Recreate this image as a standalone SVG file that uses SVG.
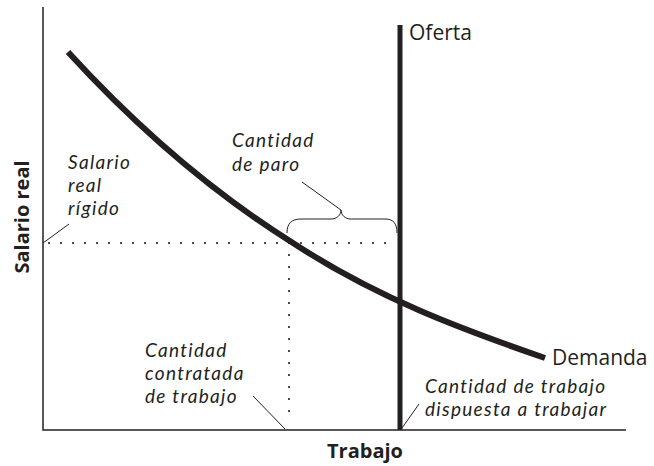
<svg xmlns="http://www.w3.org/2000/svg" width="654" height="466" viewBox="0 0 654 466">
<style>
.ax{stroke:#231f20;stroke-width:1.5;fill:none}
.thick{stroke:#231f20;fill:none;stroke-linecap:butt}
.dot{stroke:#231f20;stroke-width:2.2;stroke-dasharray:0 12;stroke-linecap:round;fill:none}
.lead{stroke:#231f20;stroke-width:1;fill:none}
.it{font-family:Lato,"Open Sans",sans-serif;font-style:italic;font-size:19px;letter-spacing:1.3px;fill:#231f20}
.rg{font-family:"Open Sans",sans-serif;font-size:21px;fill:#231f20}
.bd{font-family:"Open Sans",sans-serif;font-weight:bold;font-size:20px;fill:#231f20}
</style>
<rect width="654" height="466" fill="#fff"/>
<g id="axes">
<path class="ax" d="M43,7 V430 H626"/>
<text class="bd" x="365" y="458" text-anchor="middle">Trabajo</text>
<text class="bd" transform="translate(29,217) rotate(-90)" text-anchor="middle">Salario real</text>
</g>
<g id="demanda">
<path class="thick" stroke-width="6" d="M68,52 C143,134 218,196 293,243 C377,298 461,329 545,358"/>
<text class="rg" x="552" y="365">Demanda</text>
</g>
<g id="oferta">
<path class="thick" stroke-width="5" d="M400,25 V430"/>
<text class="rg" x="409" y="40">Oferta</text>
</g>
<g id="connectors">
<path class="dot" d="M49,243 H397"/>
<path class="dot" d="M289,255 V418"/>
<path class="lead" d="M43,243 L69,224"/>
<path class="lead" d="M341,210 L302,182"/>
<path class="lead" d="M253,396 L285,429"/>
<path class="lead" d="M402,428 L419,404"/>
<path class="lead" stroke-width="1.3" d="M287,233 C287,223 292,219 301,219 L331,219 C337,219 341,215 341,210 C341,215 345,219 351,219 L385,219 C393,219 397,223 397,233"/>
</g>
<g id="labels">
<text class="it" x="68" y="169">Salario</text>
<text class="it" x="68" y="192">real</text>
<text class="it" x="68" y="215">rígido</text>
<text class="it" x="232" y="147">Cantidad</text>
<text class="it" x="232" y="171">de paro</text>
<text class="it" x="145" y="357">Cantidad</text>
<text class="it" x="145" y="380">contratada</text>
<text class="it" x="145" y="403">de trabajo</text>
<text class="it" x="425" y="393">Cantidad de trabajo</text>
<text class="it" x="425" y="416">dispuesta a trabajar</text>
</g>
</svg>
